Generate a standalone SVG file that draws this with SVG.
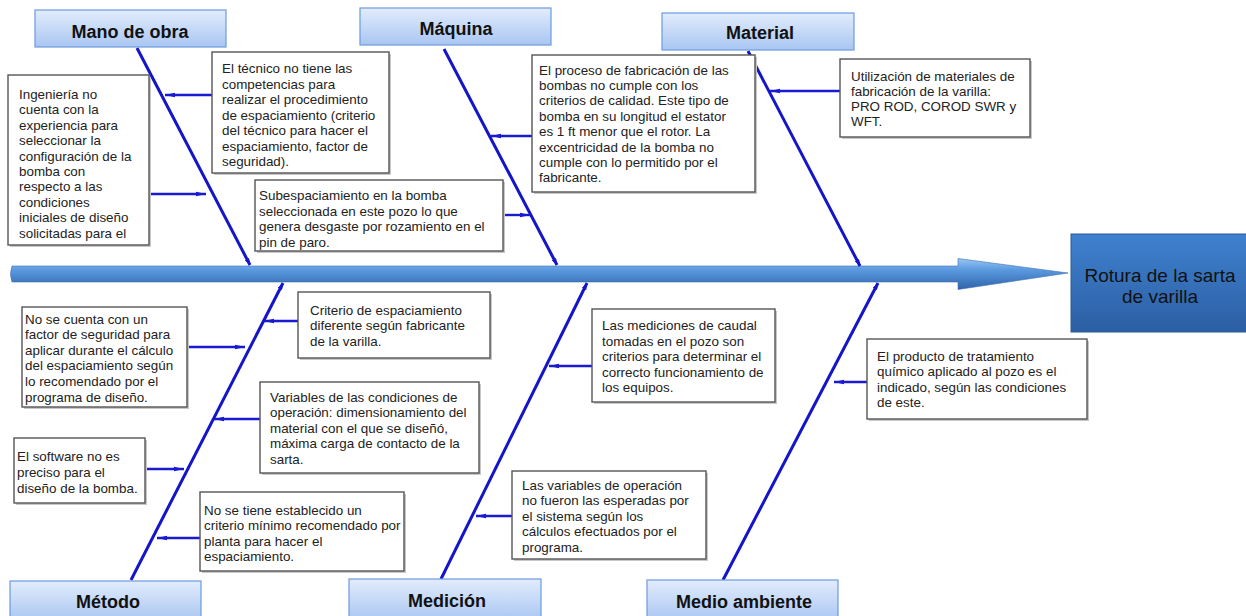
<svg xmlns="http://www.w3.org/2000/svg" width="1246" height="616" viewBox="0 0 1246 616">
<defs>
<linearGradient id="catGrad" x1="0" y1="0" x2="0" y2="1">
<stop offset="0" stop-color="#e2ecfc"/>
<stop offset="1" stop-color="#a9c6f2"/>
</linearGradient>
<linearGradient id="spineGrad" x1="0" y1="0" x2="0" y2="1">
<stop offset="0" stop-color="#9cc6f2"/>
<stop offset="0.35" stop-color="#5c9be0"/>
<stop offset="1" stop-color="#2f63a8"/>
</linearGradient>
<linearGradient id="effGrad" x1="0" y1="0" x2="0" y2="1">
<stop offset="0" stop-color="#3f81cf"/>
<stop offset="1" stop-color="#2c5fa3"/>
</linearGradient>
<marker id="ah" viewBox="0 0 10 6" refX="10" refY="3" markerWidth="10" markerHeight="6" markerUnits="userSpaceOnUse" orient="auto">
<path d="M0,0.8 L10,3 L0,5.2 Z" fill="#1a1ad0"/>
</marker>
<marker id="bh" viewBox="0 0 8 6" refX="8" refY="3" markerWidth="7" markerHeight="5" markerUnits="userSpaceOnUse" orient="auto">
<path d="M0,0 L8,3 L0,6 Z" fill="#1414c8"/>
</marker>
</defs>
<style>
.cat rect{fill:url(#catGrad);stroke:#6c9be0;stroke-width:1.2}
.cat text{font-family:"Liberation Sans",Arial,sans-serif;font-weight:bold;font-size:18px;fill:#111;text-anchor:middle}
.box rect.b{fill:#fff;stroke:#555;stroke-width:1.4}
.box rect.s{fill:#c8c8c8}
.box text{font-family:"Liberation Sans",Arial,sans-serif;font-size:13.4px;fill:#222}
.bone{stroke:#1414c8;stroke-width:3;fill:none;marker-end:url(#bh)}
.sub{stroke:#1a1ad0;stroke-width:2.4;fill:none;marker-end:url(#ah)}
</style>
<rect width="1246" height="616" fill="#fff"/>

<!-- spine -->
<g id="spine">
<path d="M12,266 L958,266 L958,258.5 L1068,273 L958,289.5 L958,282 L12,282 Q9,274 12,266 Z" fill="url(#spineGrad)" stroke="#3a6fb5" stroke-width="0.6"/>
</g>

<!-- effect -->
<g id="effect">
<rect x="1071" y="234" width="180" height="98" fill="url(#effGrad)" stroke="#2a5a9a" stroke-width="1"/>
<text x="1160" y="282" font-family="Liberation Sans,Arial,sans-serif" font-size="19px" fill="#111" text-anchor="middle">Rotura de la sarta</text>
<text x="1160" y="303" font-family="Liberation Sans,Arial,sans-serif" font-size="19px" fill="#111" text-anchor="middle">de varilla</text>
</g>

<!-- connectors -->
<g id="connectors">
<line class="bone" x1="137" y1="48" x2="250" y2="265"/>
<line class="bone" x1="444" y1="49" x2="557" y2="265"/>
<line class="bone" x1="748" y1="51" x2="860" y2="266"/>
<line class="bone" x1="131" y1="580" x2="283" y2="283"/>
<line class="bone" x1="441" y1="579" x2="587" y2="283"/>
<line class="bone" x1="723" y1="580" x2="878" y2="283"/>

<line class="sub" x1="212" y1="95" x2="165" y2="95"/>
<line class="sub" x1="149" y1="194" x2="206" y2="194"/>
<line class="sub" x1="532" y1="136" x2="491" y2="136"/>
<line class="sub" x1="503" y1="215" x2="530" y2="215"/>
<line class="sub" x1="840" y1="91" x2="770" y2="91"/>
<line class="sub" x1="298" y1="321" x2="264" y2="321"/>
<line class="sub" x1="187" y1="347" x2="245" y2="347"/>
<line class="sub" x1="260" y1="419" x2="214" y2="419"/>
<line class="sub" x1="145" y1="469" x2="184" y2="469"/>
<line class="sub" x1="200" y1="538" x2="157" y2="538"/>
<line class="sub" x1="592" y1="366" x2="549" y2="366"/>
<line class="sub" x1="512" y1="516" x2="476" y2="516"/>
<line class="sub" x1="867" y1="382" x2="834" y2="382"/>
</g>

<!-- categories -->
<g id="cat-mano" class="cat"><rect x="35" y="10" width="191" height="37"/><text x="130" y="38">Mano de obra</text></g>
<g id="cat-maquina" class="cat"><rect x="360" y="8" width="191" height="37"/><text x="456" y="35">Máquina</text></g>
<g id="cat-material" class="cat"><rect x="662" y="13" width="192" height="37"/><text x="760" y="39">Material</text></g>
<g id="cat-metodo" class="cat"><rect x="10" y="581" width="191" height="40"/><text x="108" y="608">Método</text></g>
<g id="cat-medicion" class="cat"><rect x="349" y="579" width="192" height="42"/><text x="447" y="607">Medición</text></g>
<g id="cat-medio" class="cat"><rect x="647" y="580" width="191" height="41"/><text x="744" y="608">Medio ambiente</text></g>

<!-- cause boxes -->
<g id="c-tecnico" class="box">
<rect class="s" x="214" y="54" width="177" height="121"/>
<rect class="b" x="212" y="52" width="177" height="121"/>
<text x="222" y="73">El técnico no tiene las</text>
<text x="222" y="88.5">competencias para</text>
<text x="222" y="104">realizar el procedimiento</text>
<text x="222" y="119.5">de espaciamiento (criterio</text>
<text x="222" y="135">del técnico para hacer el</text>
<text x="222" y="150.5">espaciamiento, factor de</text>
<text x="222" y="166">seguridad).</text>
</g>

<g id="c-ingenieria" class="box">
<rect class="s" x="10" y="77" width="141" height="170"/>
<rect class="b" x="8" y="75" width="141" height="170"/>
<text x="19" y="99">Ingeniería no</text>
<text x="19" y="114.4">cuenta con la</text>
<text x="19" y="129.8">experiencia para</text>
<text x="19" y="145.2">seleccionar la</text>
<text x="19" y="160.6">configuración de la</text>
<text x="19" y="176">bomba con</text>
<text x="19" y="191.4">respecto a las</text>
<text x="19" y="206.8">condiciones</text>
<text x="19" y="222.2">iniciales de diseño</text>
<text x="19" y="237.6">solicitadas para el</text>
</g>

<g id="c-subesp" class="box">
<rect class="s" x="257" y="182" width="248" height="71"/>
<rect class="b" x="255" y="180" width="248" height="71"/>
<text x="259" y="200">Subespaciamiento en la bomba</text>
<text x="259" y="215.5">seleccionada en este pozo lo que</text>
<text x="259" y="231">genera desgaste por rozamiento en el</text>
<text x="259" y="246.5">pin de paro.</text>
</g>

<g id="c-proceso" class="box">
<rect class="s" x="534" y="57" width="223" height="137"/>
<rect class="b" x="532" y="55" width="223" height="137"/>
<text x="539" y="74.5">El proceso de fabricación de las</text>
<text x="539" y="89.9">bombas no cumple con los</text>
<text x="539" y="105.3">criterios de calidad. Este tipo de</text>
<text x="539" y="120.7">bomba en su longitud el estator</text>
<text x="539" y="136.1">es 1 ft menor que el rotor. La</text>
<text x="539" y="151.5">excentricidad de la bomba no</text>
<text x="539" y="166.9">cumple con lo permitido por el</text>
<text x="539" y="182.3">fabricante.</text>
</g>

<g id="c-utilizacion" class="box">
<rect class="s" x="842" y="61" width="190" height="78"/>
<rect class="b" x="840" y="59" width="190" height="78"/>
<text x="851" y="80.5">Utilización de materiales de</text>
<text x="851" y="95.8">fabricación de la varilla:</text>
<text x="851" y="111.1">PRO ROD, COROD SWR y</text>
<text x="851" y="126.4">WFT.</text>
</g>

<g id="c-criterio" class="box">
<rect class="s" x="300" y="294" width="192" height="66"/>
<rect class="b" x="298" y="292" width="192" height="66"/>
<text x="310" y="314.5">Criterio de espaciamiento</text>
<text x="310" y="330">diferente según fabricante</text>
<text x="310" y="345.5">de la varilla.</text>
</g>

<g id="c-nocuenta" class="box">
<rect class="s" x="24" y="309" width="165" height="100"/>
<rect class="b" x="22" y="307" width="165" height="100"/>
<text x="25" y="323.5">No se cuenta con un</text>
<text x="25" y="339.1">factor de seguridad para</text>
<text x="25" y="354.7">aplicar durante el cálculo</text>
<text x="25" y="370.3">del espaciamiento según</text>
<text x="25" y="385.9">lo recomendado por el</text>
<text x="25" y="401.5">programa de diseño.</text>
</g>

<g id="c-variables" class="box">
<rect class="s" x="262" y="384" width="219" height="91"/>
<rect class="b" x="260" y="382" width="219" height="91"/>
<text x="270" y="401.5">Variables de las condiciones de</text>
<text x="270" y="417">operación: dimensionamiento del</text>
<text x="270" y="432.5">material con el que se diseñó,</text>
<text x="270" y="448">máxima carga de contacto de la</text>
<text x="270" y="463.5">sarta.</text>
</g>

<g id="c-software" class="box">
<rect class="s" x="16" y="440" width="131" height="65"/>
<rect class="b" x="14" y="438" width="131" height="65"/>
<text x="17" y="461">El software no es</text>
<text x="17" y="477">preciso para el</text>
<text x="17" y="493">diseño de la bomba.</text>
</g>

<g id="c-notiene" class="box">
<rect class="s" x="202" y="494" width="204" height="79"/>
<rect class="b" x="200" y="492" width="204" height="79"/>
<text x="204" y="514.5">No se tiene establecido un</text>
<text x="204" y="530">criterio mínimo recomendado por</text>
<text x="204" y="545.5">planta para hacer el</text>
<text x="204" y="561">espaciamiento.</text>
</g>

<g id="c-mediciones" class="box">
<rect class="s" x="594" y="311" width="183" height="93"/>
<rect class="b" x="592" y="309" width="183" height="93"/>
<text x="602" y="330">Las mediciones de caudal</text>
<text x="602" y="345.5">tomadas en el pozo son</text>
<text x="602" y="361">criterios para determinar el</text>
<text x="602" y="376.5">correcto funcionamiento de</text>
<text x="602" y="392">los equipos.</text>
</g>

<g id="c-varoper" class="box">
<rect class="s" x="514" y="473" width="194" height="88"/>
<rect class="b" x="512" y="471" width="194" height="88"/>
<text x="522" y="489.5">Las variables de operación</text>
<text x="522" y="505">no fueron las esperadas por</text>
<text x="522" y="520.5">el sistema según los</text>
<text x="522" y="536">cálculos efectuados por el</text>
<text x="522" y="551.5">programa.</text>
</g>

<g id="c-producto" class="box">
<rect class="s" x="869" y="341" width="220" height="80"/>
<rect class="b" x="867" y="339" width="220" height="80"/>
<text x="877" y="360.5">El producto de tratamiento</text>
<text x="877" y="376">químico aplicado al pozo es el</text>
<text x="877" y="391.5">indicado, según las condiciones</text>
<text x="877" y="407">de este.</text>
</g>
</svg>
